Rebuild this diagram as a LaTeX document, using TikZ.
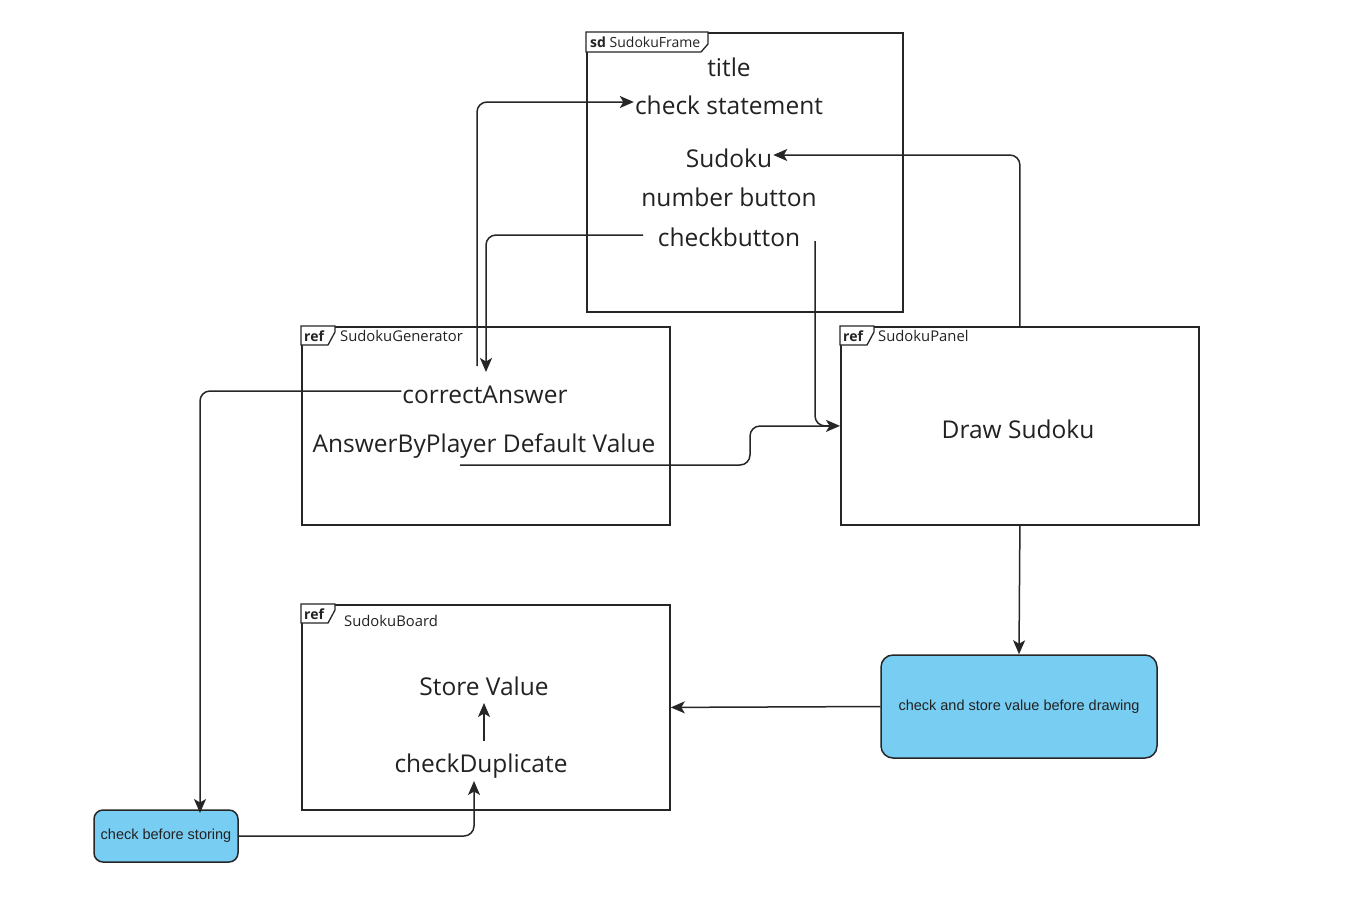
\documentclass[tikz,border=0pt]{standalone}
\usepackage{fontspec}
\setmainfont{Open Sans}
\newfontfamily\arialf{Liberation Sans}
\usetikzlibrary{arrows.meta}
\definecolor{boxblue}{HTML}{77CDF2}
\definecolor{txt}{HTML}{222222}
\tikzset{
  frame/.style={draw=black!85, line width=1.8pt, rectangle, inner sep=0pt, anchor=north west},
  tab/.style={draw=black!85, line width=1.3pt, fill=white},
  tabtxt/.style={font=\fontsize{14}{16}\selectfont, text=txt, inner sep=0pt, anchor=west},
  big/.style={font=\fontsize{24.5}{28}\selectfont, text=txt, inner sep=1pt},
  blue/.style={draw=black!85, line width=1.5pt, fill=boxblue, rounded corners=12pt, font=\arialf\fontsize{14.5}{17}\selectfont, text=txt},
  conn/.style={draw=black!85, line width=1.5pt, rounded corners=10pt},
  arr/.style={conn, -{Stealth[length=14pt,width=12pt,inset=3.5pt]}}
}
\begin{document}
\begin{tikzpicture}[x=1pt,y=-1pt]
\useasboundingbox[fill=white] (0,0) rectangle (1364,906);

% frames
\node[frame, minimum width=316pt, minimum height=279pt] (frm) at (586,32) {};
\node[frame, minimum width=368pt, minimum height=198pt] (gen) at (301,326) {};
\node[frame, minimum width=358pt, minimum height=198pt] (pan) at (840,326) {};
\node[frame, minimum width=368pt, minimum height=205pt] (brd) at (301,604) {};

% tabs
\draw[tab] (586,32) -- (708,32) -- (708,44) -- (701,52) -- (586,52) -- cycle;
\node[tabtxt] (frmlbl) at (590,42) {\textbf{sd} SudokuFrame};
\draw[tab] (301,326) -- (335,326) -- (335,332) -- (328,345) -- (301,345) -- cycle;
\node[tabtxt] (genref) at (304,336) {\textbf{ref}};
\node[tabtxt, font=\fontsize{14.8}{17}\selectfont] (genlbl) at (340,336) {SudokuGenerator};
\draw[tab] (840,326) -- (874,326) -- (874,332) -- (867,345) -- (840,345) -- cycle;
\node[tabtxt] (panref) at (843,336) {\textbf{ref}};
\node[tabtxt, font=\fontsize{14.8}{17}\selectfont] (panlbl) at (878,336) {SudokuPanel};
\draw[tab] (301,604) -- (335,604) -- (335,610) -- (328,623) -- (301,623) -- cycle;
\node[tabtxt] (brdref) at (304,614) {\textbf{ref}};
\node[tabtxt, font=\fontsize{14.8}{17}\selectfont] (brdlbl) at (344,621) {SudokuBoard};

% texts in SudokuFrame
\node[big] (ttl) at (729,67) {title};
\node[big] (cs) at (729,105) {check statement};
\node[big] (sdk) at (729,158) {Sudoku};
\node[big] (nb) at (729,197) {number button};
\node[big] (cb) at (729,237) {checkbutton};

% texts in generator
\node[big] (ca) at (485,395) {correctAnswer};
\node[big] (abp) at (484,446) {AnswerByPlayer Default Value};

% panel
\node[big] (ds) at (1018,429) {Draw Sudoku};

% board
\node[big] (sv) at (484,686) {Store Value};
\node[big] (cd) at (481,766) {checkDuplicate};

% blue boxes
\node[blue, minimum width=276pt, minimum height=103pt] (b1) at (1019,706.5) {check and store value before drawing};
\node[blue, minimum width=144pt, minimum height=52pt, rounded corners=9pt] (b2) at (166,836) {check before storing};

% ports
\coordinate (p1) at (477,366);
\coordinate (p2) at (643,235);
\coordinate (p3) at (815,241);
\coordinate (p4) at (460,465);

% connectors
\draw[arr] (p1) -- (477,102) -- (cs.west |- 0,102);
\draw[arr] (p2) -- (486,235) -- (486,372);
\draw[arr] (pan.north) |- (sdk.east |- 0,155);
\draw[arr] (p3) |- (pan.west);
\draw[conn] (p4) -- (750,465) -- (750,426) -- (830,426);
\draw[arr] (ca.west |- 0,391) -| (200,813);
\draw[arr] (pan.south) -- (b1.north);
\draw[arr] (b1.west) -- (brd.east);
\draw[arr] (b2.east) -| (474,781);
\draw[arr] (484,741) -- (484,703);
\end{tikzpicture}
\end{document}
